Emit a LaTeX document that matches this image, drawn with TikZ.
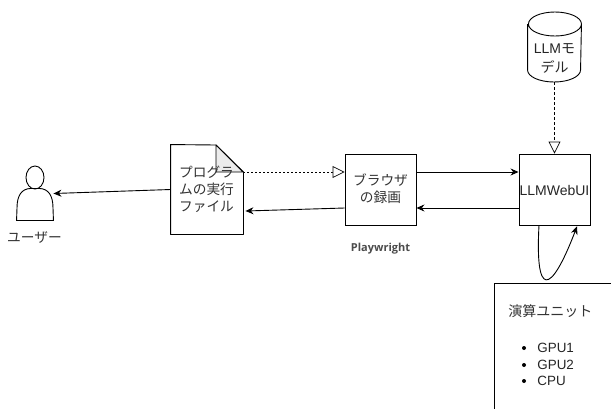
\documentclass[tikz,border=0pt]{standalone}
\usepackage{fontspec}
\setmainfont{Liberation Sans}
\newfontfamily\cjk{Noto Sans CJK JP}
\newfontfamily\pwfont{Open Sans}
\usetikzlibrary{arrows.meta, shapes.geometric}
\begin{document}
\begin{tikzpicture}[
  x=1pt, y=-1pt, line width=.9pt,
  box/.style={draw, minimum width=71pt, minimum height=71pt, inner sep=0pt},
  jptext/.style={align=center, inner sep=0pt, text=black!80, font=\fontsize{13.7}{17}\selectfont\cjk},
  flow/.style={-{Stealth[length=8pt, width=7pt]}},
  hollow/.style={-{Triangle[open, fill=white, length=12pt, width=12pt]}, line width=.7pt},
  listitem/.style={anchor=west, inner sep=0pt, text=black!85, font=\fontsize{13.4}{16}\selectfont}
]
  \clip (0,0) rectangle (611,408);
  \fill[white] (0,0) rectangle (611,408);

  % Boxes
  \node[box] (browser) at (380.5,189.5) {};
  \node[box] (webui) at (554.5,189.5) {};
  \node[draw, minimum width=140pt, minimum height=140pt, inner sep=0pt, anchor=north west] (unit) at (494,283) {};

  % Program file
  \node[minimum width=72pt, minimum height=89pt, inner sep=0pt] (program) at (207,189.5) {};
  \draw[line join=round] (program.north west) -- (216,145) -- (program.north east |- 0,172) -- (program.south east) -- (program.south west) -- cycle;
  \draw[fill=gray!15, line join=round] (216,145) -- (243,172) -- (216,172) -- cycle;

  % Model cylinder
  \node[minimum width=53pt, minimum height=70pt, inner sep=0pt] (model) at (554.5,47) {};
  \draw (model.north west |- 0,24) -- (model.west |- 0,70) arc[start angle=180, end angle=360, x radius=26.5, y radius=-12]
    -- (model.east |- 0,24) arc[start angle=0, end angle=360, x radius=26.5, y radius=-12];

  % User
  \node[draw, ellipse, minimum width=18pt, minimum height=23pt, inner sep=0pt, fill=white] (head) at (35,177.5) {};
  \node[minimum width=36pt, minimum height=31pt, inner sep=0pt] (user) at (35,204.5) {};
  \draw (user.south west) -- (17,208) .. controls (17,195) and (22,189) .. (30,188.5)
    -- (40,188.5) .. controls (48,189) and (53,195) .. (53,208) -- (user.south east) -- cycle;

  % Labels
  \node[jptext] (usertext) at (34.5,238) {ユーザー};
  \node[jptext] (programtext) at (206.5,189.5) {プログラ\\ムの実行\\ファイル};
  \node[jptext] (browsertext) at (380.5,189) {ブラウザ\\の録画};
  \node[inner sep=0pt, text=black!85, font=\fontsize{14}{17}\selectfont] (webuitext) at (554.5,190) {LLMWebUI};
  \node[align=center, inner sep=0pt, text=black!85, font=\fontsize{14}{19}\selectfont] (modeltext) at (554.5,58.5) {LLM{\cjk モ}\\{\cjk デル}};
  \node[inner sep=0pt, text=black!70, font=\fontsize{11}{13}\selectfont\pwfont\bfseries] (playwright) at (380.5,249) {Playwright};
  \node[jptext, anchor=west, font=\fontsize{14}{17}\selectfont\cjk] (unittext) at (508,311) {演算ユニット};

  % Unit list
  \node[listitem] (gpua) at (537,348) {GPU1};
  \node[listitem] (gpub) at (537,365) {GPU2};
  \node[listitem] (cpu) at (537,381) {CPU};
  \foreach \itemname in {gpua, gpub, cpu}
    \fill ([xshift=-13pt]\itemname.west) circle (2pt);

  % Connectors
  \draw[flow] (program.west) -- ([yshift=11pt]user.east);
  \draw[flow] ([yshift=-18.5pt]browser.west) -- ([yshift=-21.5pt,xshift=2pt]program.east);
  \draw[flow] ([yshift=17.5pt]browser.east) -- ([yshift=17.5pt]webui.west);
  \draw[flow] ([yshift=-18.5pt]webui.west) -- ([yshift=-18.5pt]browser.east);
  \draw[hollow, dash pattern=on 2pt off 2pt] ([yshift=17.5pt]program.east) -- ([yshift=17.5pt]browser.west);
  \draw[hollow, dash pattern=on 3pt off 2pt] (model.south) -- (webui.north);
  \draw[flow] ([xshift=-15.5pt]webui.south) .. controls (535,297) and (550,297) .. ([xshift=22.5pt,yshift=-1pt]webui.south);
\end{tikzpicture}
\end{document}
